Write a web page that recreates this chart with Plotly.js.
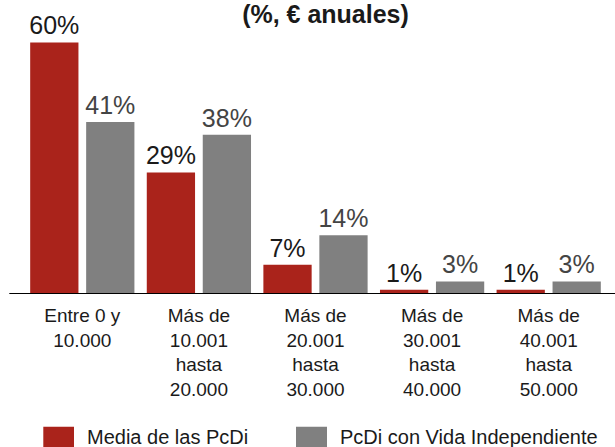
<!DOCTYPE html>
<html>
<head>
<meta charset="utf-8">
<script src="https://cdn.plot.ly/plotly-3.0.1.min.js"></script>
<style>html,body{margin:0;padding:0;background:#fff;}#chart{width:615px;height:447px;}</style>
</head>
<body>
<div id="chart"></div>
<script>
// ---- data ----
const categories = ["c1", "c2", "c3", "c4", "c5"];
const tickLabels = [
  "Entre 0 y<br>10.000",
  "Más de<br>10.001<br>hasta<br>20.000",
  "Más de<br>20.001<br>hasta<br>30.000",
  "Más de<br>30.001<br>hasta<br>40.000",
  "Más de<br>40.001<br>hasta<br>50.000"
];
const seriesNames = ["Media de las PcDi", "PcDi con Vida Independiente"];
const mediaPcDi = [60, 29, 7, 1, 1];
const vidaIndependiente = [41, 38, 14, 3, 3];
const titleText = "(%, € anuales)";

// ---- styles ----
const RED = "#AA231B";
const GRAY = "#808080";
const FONT = "Liberation Sans, Arial, Helvetica, sans-serif";

const W = 615, H = 447;
const M = {l: 24, r: 8, t: 34, b: 153};
const plotW = W - M.l - M.r, plotH = H - M.t - M.b;
const px = x => (x - M.l) / plotW;          // pixel -> paper x
const py = y => (H - M.b - y) / plotH;      // pixel -> paper y

const traces = [
  {
    type: "bar", name: seriesNames[0], x: categories, y: mediaPcDi,
    marker: {color: RED},
    text: mediaPcDi.map(v => v + "%"), textposition: "outside",
    textfont: {family: FONT, size: 25, color: "#1a1a1a"},
    constraintext: "none", cliponaxis: false, hoverinfo: "skip"
  },
  {
    type: "bar", name: seriesNames[1], x: categories, y: vidaIndependiente,
    marker: {color: GRAY},
    text: vidaIndependiente.map(v => v + "%"), textposition: "outside",
    textfont: {family: FONT, size: 25, color: "#444444"},
    constraintext: "none", cliponaxis: false, hoverinfo: "skip"
  }
];

const legendItems = [
  {name: seriesNames[0], color: RED, box: [43.3, 74], textX: 85},
  {name: seriesNames[1], color: GRAY, box: [296, 327], textX: 338}
];

const shapes = [
  {type: "line", xref: "paper", yref: "y", x0: px(9.3), x1: px(620), y0: 0, y1: 0,
   line: {color: "#000", width: 2.2}, layer: "above"}
];
const annotations = [];
legendItems.forEach(it => {
  shapes.push({type: "rect", xref: "paper", yref: "paper",
    x0: px(it.box[0]), x1: px(it.box[1]), y0: py(426.7), y1: py(470),
    fillcolor: it.color, line: {width: 0}});
  annotations.push({xref: "paper", yref: "paper", x: px(it.textX), y: py(437),
    xanchor: "left", yanchor: "middle", text: it.name, showarrow: false,
    font: {family: FONT, size: 20, color: "#1a1a1a"}});
});

const layout = {
  width: W, height: H,
  margin: M,
  paper_bgcolor: "#fff", plot_bgcolor: "#fff",
  showlegend: false,
  barmode: "group", bargap: 0.04, bargroupgap: 0.1375,
  title: {text: "<b>" + titleText + "</b>", x: 325.5 / W, xanchor: "center",
          y: 1 - 14 / H, yanchor: "middle", xref: "container", yref: "container",
          font: {family: FONT, size: 25, color: "#1a1a1a"}},
  xaxis: {tickvals: categories, ticktext: tickLabels, showline: false, showgrid: false,
          zeroline: false, ticks: "", tickfont: {family: FONT, size: 19, color: "#1a1a1a"},
          ticklabelstandoff: 8},
  yaxis: {range: [0, 62], visible: false, showgrid: false, zeroline: false},
  shapes: shapes,
  annotations: annotations,
  font: {family: FONT}
};

Plotly.newPlot("chart", traces, layout, {displayModeBar: false, staticPlot: true});
</script>
</body>
</html>
